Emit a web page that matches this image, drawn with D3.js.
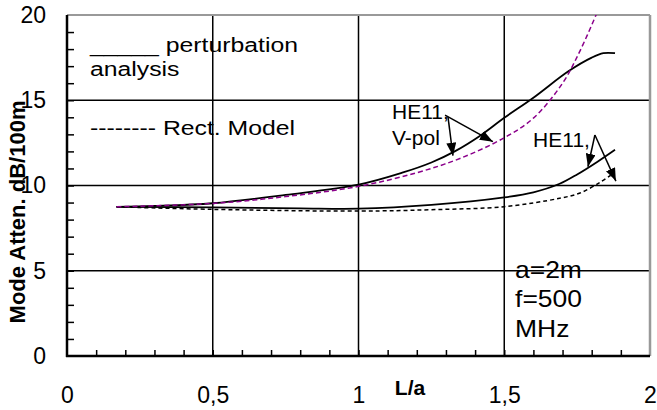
<!DOCTYPE html>
<html>
<head>
<meta charset="utf-8">
<script src="https://cdn.jsdelivr.net/npm/d3@7"></script>
<style>
  body { margin: 0; background: #fff; }
  text { font-family: "Liberation Sans", Arial, sans-serif; fill: #000; }
</style>
</head>
<body>
<svg width="657" height="410"></svg>
<script>
// axis ticks
const xTicks = [0, 0.5, 1, 1.5, 2];
const xTickLabels = ['0', '0,5', '1', '1,5', '2'];
const yTicks = [0, 5, 10, 15, 20];
const xMinor = d3.range(1, 20).map(d => d / 10);
const yMinor = d3.range(1, 20);

// perturbation analysis, HE11 V-pol (upper solid)
const pertVx = [0.17, 0.3, 0.5, 0.75, 1.0, 1.15, 1.25, 1.33, 1.42, 1.5, 1.6, 1.72, 1.8, 1.84, 1.88];
const pertVy = [8.75, 8.8, 8.96, 9.45, 10.05, 10.75, 11.35, 12.0, 12.95, 13.97, 15.15, 16.7, 17.5, 17.76, 17.76];

// rect. model, V-pol (purple dashed)
const rectVx = [0.17, 0.5, 0.75, 1.0, 1.2, 1.35, 1.5, 1.6, 1.7, 1.76, 1.82, 1.84];
const rectVy = [8.75, 8.95, 9.35, 9.95, 10.75, 11.6, 12.8, 13.95, 16.0, 17.9, 20.2, 21];

// perturbation analysis, HE11 (lower solid)
const pertHx = [0.17, 0.5, 0.8, 1.0, 1.25, 1.5, 1.6, 1.69, 1.75, 1.82, 1.88];
const pertHy = [8.75, 8.72, 8.66, 8.64, 8.86, 9.3, 9.6, 10.1, 10.65, 11.4, 12.1];

// rect. model (lower dashed)
const rectHx = [0.17, 0.5, 1.0, 1.25, 1.5, 1.69, 1.76, 1.83, 1.865];
const rectHy = [8.75, 8.6, 8.5, 8.58, 8.76, 9.25, 9.56, 10.2, 10.6];

// annotation arrows [x1, y1, x2, y2] in data units
const arrows = [
  [1.297, 14.13, 1.461, 12.57],
  [1.307, 14.02, 1.324, 11.75],
  [1.811, 12.96, 1.787, 11.10],
  [1.811, 12.96, 1.883, 10.26]
];

const svg = d3.select('svg');
const margin = { left: 67, top: 15, right: 7, bottom: 54 };
const width = +svg.attr('width');
const height = +svg.attr('height');

const x = d3.scaleLinear().domain([0, 2]).range([margin.left, width - margin.right]);
const y = d3.scaleLinear().domain([0, 20]).range([height - margin.bottom, margin.top]);

svg.append('rect').attr('width', width).attr('height', height).attr('fill', '#fff');

svg.append('defs').append('clipPath').attr('id', 'plot')
  .append('rect')
    .attr('x', x(0)).attr('y', y(20))
    .attr('width', x(2) - x(0)).attr('height', y(0) - y(20));

const marker = svg.select('defs').append('marker')
    .attr('id', 'head')
    .attr('markerUnits', 'userSpaceOnUse')
    .attr('viewBox', '0 -5 13 10')
    .attr('refX', 13).attr('refY', 0)
    .attr('markerWidth', 13).attr('markerHeight', 10)
    .attr('orient', 'auto');
marker.append('path').attr('d', 'M0,-5L13,0L0,5Z').attr('fill', '#000');

// grid
const grid = svg.append('g').attr('stroke', '#000').attr('stroke-width', 1.5);
grid.selectAll('line.gx').data([0.5, 1, 1.5]).join('line')
    .attr('x1', d => x(d)).attr('x2', d => x(d))
    .attr('y1', y(0)).attr('y2', y(20));
grid.selectAll('line.gy').data([5, 10, 15]).join('line')
    .attr('x1', x(0)).attr('x2', x(2))
    .attr('y1', d => y(d)).attr('y2', d => y(d));

// minor ticks
svg.append('g')
    .attr('transform', `translate(0, ${ y(0) })`)
    .call(d3.axisBottom(x).tickValues(xMinor).tickSize(-6).tickFormat(''))
    .call(g => g.select('.domain').remove())
    .call(g => g.selectAll('line').attr('stroke-width', 1.5));
svg.append('g')
    .attr('transform', `translate(${ x(0) }, 0)`)
    .call(d3.axisLeft(y).tickValues(yMinor).tickSize(-7).tickFormat(''))
    .call(g => g.select('.domain').remove())
    .call(g => g.selectAll('line').attr('stroke-width', 1.5));

// frame
svg.append('line').attr('x1', x(0)).attr('x2', x(2)).attr('y1', y(20)).attr('y2', y(20))
    .attr('stroke', '#999').attr('stroke-width', 2);
svg.append('line').attr('x1', x(2)).attr('x2', x(2)).attr('y1', y(20)).attr('y2', y(0))
    .attr('stroke', '#999').attr('stroke-width', 2.5);
svg.append('line').attr('x1', x(0)).attr('x2', x(0)).attr('y1', y(20)).attr('y2', y(0) + 1)
    .attr('stroke', '#000').attr('stroke-width', 2.5);
svg.append('line').attr('x1', x(0) - 1).attr('x2', x(2)).attr('y1', y(0)).attr('y2', y(0))
    .attr('stroke', '#000').attr('stroke-width', 2.5);

// tick labels
svg.append('g')
    .attr('transform', `translate(0, ${ y(0) })`)
    .call(d3.axisBottom(x).tickValues(xTicks).tickSize(0).tickPadding(31)
        .tickFormat((d, i) => xTickLabels[i]))
    .call(g => g.select('.domain').remove())
    .call(g => g.selectAll('text').attr('font-size', 23).attr('font-family', null));
svg.append('g')
    .attr('transform', `translate(${ x(0) }, 0)`)
    .call(d3.axisLeft(y).tickValues(yTicks).tickSize(0).tickPadding(21))
    .call(g => g.select('.domain').remove())
    .call(g => g.selectAll('text').attr('font-size', 23).attr('font-family', null));

// axis titles
svg.append('text')
    .attr('transform', `translate(25, 212) rotate(-90)`)
    .attr('text-anchor', 'middle')
    .attr('font-size', 22).attr('font-weight', 'bold')
    .text('Mode Atten. dB/100m');
svg.append('text')
    .attr('x', 410).attr('y', 395)
    .attr('text-anchor', 'middle')
    .attr('font-size', 21).attr('font-weight', 'bold')
    .text('L/a');

// curves
const line = d3.line().x(d => x(d[0])).y(d => y(d[1])).curve(d3.curveCatmullRom.alpha(0.5));
const curves = svg.append('g').attr('clip-path', 'url(#plot)').attr('fill', 'none');

curves.append('path').datum(d3.zip(rectHx, rectHy))
    .attr('d', line).attr('stroke', '#000').attr('stroke-width', 1.5)
    .attr('stroke-dasharray', '4,3');
curves.append('path').datum(d3.zip(pertHx, pertHy))
    .attr('d', line).attr('stroke', '#000').attr('stroke-width', 1.8);
curves.append('path').datum(d3.zip(pertVx, pertVy))
    .attr('d', line).attr('stroke', '#000').attr('stroke-width', 1.8);
curves.append('path').datum(d3.zip(rectVx, rectVy))
    .attr('d', line).attr('stroke', '#8b008b').attr('stroke-width', 1.5)
    .attr('stroke-dasharray', '5,3');

// arrows
svg.append('g').selectAll('line').data(arrows).join('line')
    .attr('x1', d => x(d[0])).attr('y1', d => y(d[1]))
    .attr('x2', d => x(d[2])).attr('y2', d => y(d[3]))
    .attr('stroke', '#000').attr('stroke-width', 1.5)
    .attr('marker-end', 'url(#head)');

// labels
function label(text, dx, dy, size, sx) {
  svg.append('text')
      .attr('transform', `translate(${ x(dx) }, ${ y(dy) }) scale(${ sx }, 1)`)
      .attr('font-size', size)
      .text(text);
}
label('_____ perturbation', 0.079, 17.83, 21, 1.18);
label('analysis', 0.079, 16.42, 21, 1.18);
label('-------- Rect. Model', 0.079, 12.96, 21, 1.18);
label('HE11,', 1.115, 13.9, 20, 1.05);
label('V-pol', 1.115, 12.38, 20, 1.05);
label('HE11,', 1.599, 12.28, 20, 1.05);
label('a=2m', 1.537, 4.57, 23, 1.15);
label('f=500', 1.537, 2.89, 23, 1.15);
label('MHz', 1.537, 1.13, 23, 1.15);
</script>
</body>
</html>
